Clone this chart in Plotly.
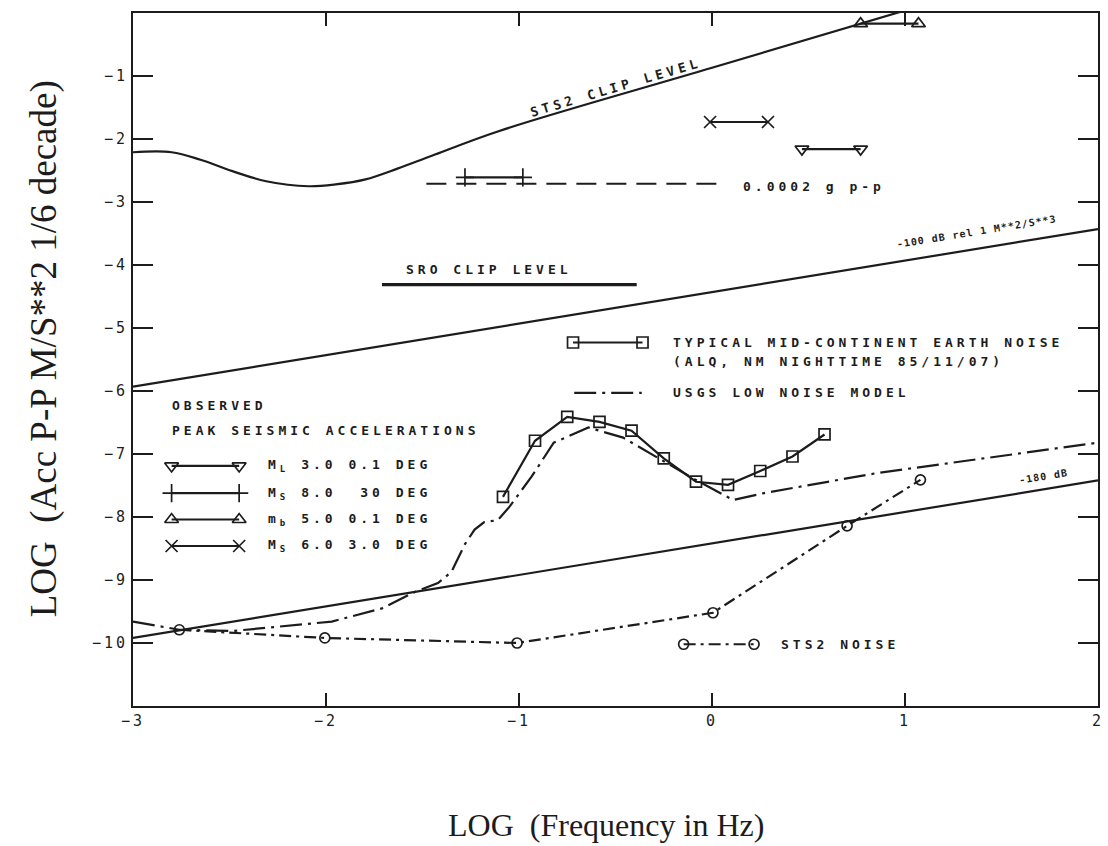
import plotly.graph_objects as go

# ---- data: log10 frequency (Hz) vs log10 peak-to-peak acceleration (m/s^2, 1/6 decade) ----
sts2_clip_f = [-3.0, -2.80, -2.65, -2.485, -2.31, -2.09, -1.95, -1.795, -1.63, -1.455, -1.11, 0.0, 1.0]
sts2_clip_a = [-2.21, -2.21, -2.33, -2.51, -2.67, -2.75, -2.72, -2.64, -2.47, -2.27, -1.88, -0.87, 0.04]

earth_noise_f = [-1.083, -0.917, -0.75, -0.583, -0.417, -0.25, -0.083, 0.083, 0.25, 0.417, 0.583]
earth_noise_a = [-7.68, -6.79, -6.41, -6.49, -6.63, -7.07, -7.44, -7.49, -7.27, -7.04, -6.69]

nlnm_f = [-3.0, -2.76, -2.485, -2.23, -1.97, -1.71, -1.54, -1.42, -1.35, -1.28, -1.23, -1.18, -1.11,
          -1.05, -0.935, -0.82, -0.64, -0.46, -0.26, -0.085, 0.11, 0.27, 0.86, 2.0]
nlnm_a = [-9.66, -9.79, -9.81, -9.74, -9.66, -9.45, -9.19, -9.05, -8.87, -8.43, -8.20, -8.08, -8.05,
          -7.84, -7.36, -6.82, -6.58, -6.74, -7.09, -7.41, -7.73, -7.62, -7.30, -6.82]

sts2_noise_f = [-2.76, -2.006, -1.01, 0.005, 0.70, 1.08]
sts2_noise_a = [-9.79, -9.92, -10.0, -9.52, -8.14, -7.41]

db100_f = [-3.0, 2.0]
db100_a = [-5.93, -3.43]
db180_f = [-3.0, 2.0]
db180_a = [-9.92, -7.42]

sro_clip_f = [-1.71, -0.39]
sro_clip_a = [-4.31, -4.31]

g_level_f = [-1.48, 0.05]
g_level_a = [-2.71, -2.71]

# observed peak seismic accelerations (frequency band, level)
ml30_f = [0.466, 0.77]
ml30_a = [-2.16, -2.16]
ms80_f = [-1.28, -0.98]
ms80_a = [-2.61, -2.61]
mb50_f = [0.77, 1.07]
mb50_a = [-0.17, -0.17]
ms60_f = [-0.01, 0.29]
ms60_a = [-1.73, -1.73]

x_ticks = [-3, -2, -1, 0, 1, 2]
y_ticks = [-1, -2, -3, -4, -5, -6, -7, -8, -9, -10]

INK = "#1c1c1c"
MONO = "DejaVu Sans Mono"
SERIF = "Liberation Serif"


def spaced(s, sp=4):
    return f"<span style='letter-spacing:{sp}px'>{s}</span>"


fig = go.Figure()


def add_line(x, y, dash="solid", width=2.2, symbol=None, msize=10, shape="linear"):
    mode = "lines+markers" if symbol else "lines"
    kw = dict(x=x, y=y, mode=mode, showlegend=False, hoverinfo="skip",
              line=dict(color=INK, width=width, dash=dash, shape=shape))
    if symbol:
        kw["marker"] = dict(symbol=symbol, size=msize, color=INK,
                            line=dict(color=INK, width=1.7))
    fig.add_trace(go.Scatter(**kw))


NLNM_DASH = "22px,6px,3px,6px"
STS2_DASH = "12px,5px,3px,5px"

# main curves
add_line(sts2_clip_f, sts2_clip_a, shape="spline")
add_line(db100_f, db100_a)
add_line(db180_f, db180_a)
add_line(sro_clip_f, sro_clip_a, width=3.2)
add_line(g_level_f, g_level_a, dash="20px,10px")
add_line(nlnm_f, nlnm_a, dash=NLNM_DASH)
add_line(earth_noise_f, earth_noise_a, symbol="square-open", msize=11)
add_line(sts2_noise_f, sts2_noise_a, dash=STS2_DASH, symbol="circle-open", msize=10)

# observed events
add_line(ml30_f, ml30_a, symbol="triangle-down-open", msize=12)
add_line(ms80_f, ms80_a, symbol="cross-thin-open", msize=13)
add_line(mb50_f, mb50_a, symbol="triangle-up-open", msize=12)
add_line(ms60_f, ms60_a, symbol="x-thin-open", msize=12)

# key samples drawn inside the plot
add_line([-0.72, -0.36], [-5.23, -5.23], symbol="square-open", msize=11)
add_line([-0.714, -0.364], [-6.03, -6.03], dash=NLNM_DASH)
add_line([-0.147, 0.218], [-10.02, -10.02], dash=STS2_DASH, symbol="circle-open", msize=10)
key_x = [-2.80, -2.45]
add_line(key_x, [-7.19, -7.19], symbol="triangle-down-open", msize=12)
add_line(key_x, [-7.62, -7.62], symbol="cross-thin-open", msize=13)
add_line(key_x, [-8.04, -8.04], symbol="triangle-up-open", msize=12)
add_line(key_x, [-8.46, -8.46], symbol="x-thin-open", msize=12)

anns = []


def label(x, y, text, size=13, sp=4, xanchor="left", angle=0, font=MONO, bold=True):
    t = spaced(text, sp)
    if bold:
        t = f"<b>{t}</b>"
    anns.append(dict(x=x, y=y, xref="x", yref="y", text=t, showarrow=False,
                     xanchor=xanchor, yanchor="middle", textangle=angle,
                     font=dict(family=font, size=size, color=INK)))


label(-0.50, -1.18, "STS2 CLIP LEVEL", xanchor="center", angle=-16.5)
label(0.151, -2.75, "0.0002 g p-p")
label(-1.157, -4.07, "SRO CLIP LEVEL", xanchor="center")
label(1.372, -3.47, "-100 dB rel 1 M**2/S**3", size=10, sp=1, xanchor="center", angle=-9.2)
label(1.717, -7.36, "-180 dB", size=10, sp=1, xanchor="center", angle=-9.2)
label(-0.21, -5.23, "TYPICAL MID-CONTINENT EARTH NOISE")
label(-0.21, -5.53, "(ALQ, NM NIGHTTIME 85/11/07)")
label(-0.21, -6.03, "USGS LOW NOISE MODEL")
label(0.347, -10.02, "STS2 NOISE")
label(-2.81, -6.23, "OBSERVED")
label(-2.81, -6.62, "PEAK SEISMIC ACCELERATIONS")
label(-2.31, -7.19, "M<sub>L</sub> 3.0 0.1 DEG")
label(-2.31, -7.62, "M<sub>S</sub> 8.0&nbsp;&nbsp;30 DEG")
label(-2.31, -8.04, "m<sub>b</sub> 5.0 0.1 DEG")
label(-2.31, -8.46, "M<sub>S</sub> 6.0 3.0 DEG")

# axis titles
anns.append(dict(x=0.49, y=-0.172, xref="paper", yref="paper", showarrow=False,
                 text="LOG&nbsp;&nbsp;(Frequency in Hz)", xanchor="center", yanchor="middle",
                 font=dict(family=SERIF, size=32, color=INK)))
anns.append(dict(x=-0.092, y=0.515, xref="paper", yref="paper", showarrow=False,
                 text="LOG&nbsp;&nbsp;(Acc P-P M/S**2 1/6 decade)", textangle=-90,
                 xanchor="center", yanchor="middle",
                 font=dict(family=SERIF, size=37, color=INK)))

tick_font = dict(family=MONO, size=15, color=INK)
axis_common = dict(showgrid=False, zeroline=False, showline=True, linecolor=INK, linewidth=2,
                   mirror="allticks", ticks="inside", tickcolor=INK, tickwidth=2,
                   tickfont=tick_font, ticklabeloverflow="allow")

fig.update_layout(
    width=1108, height=846,
    margin=dict(l=133, r=4, t=13, b=140),
    paper_bgcolor="white", plot_bgcolor="white",
    annotations=anns,
    xaxis=dict(range=[-3, 2], tickvals=x_ticks,
               ticktext=[spaced(str(v).replace("-", "\u2212"), 3) for v in x_ticks],
               ticklen=13, **axis_common),
    yaxis=dict(range=[-11, 0], tickvals=y_ticks,
               ticktext=[spaced(str(v).replace("-", "\u2212"), 3) for v in y_ticks],
               ticklen=20, **axis_common),
)

fig.write_html("out.html")
